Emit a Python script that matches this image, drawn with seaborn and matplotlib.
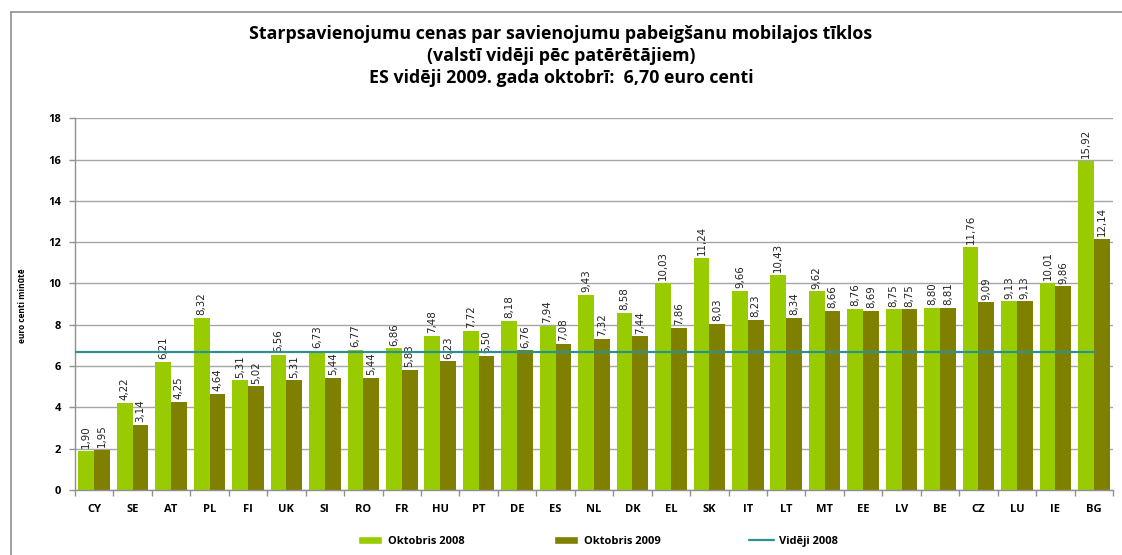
import matplotlib
matplotlib.use("Agg")
import matplotlib.pyplot as plt
import seaborn as sns
import pandas as pd
import numpy as np
from matplotlib.lines import Line2D
from matplotlib.patches import Patch

countries = ["CY", "SE", "AT", "PL", "FI", "UK", "SI", "RO", "FR", "HU", "PT", "DE", "ES", "NL",
             "DK", "EL", "SK", "IT", "LT", "MT", "EE", "LV", "BE", "CZ", "LU", "IE", "BG"]
oct2008 = [1.90, 4.22, 6.21, 8.32, 5.31, 6.56, 6.73, 6.77, 6.86, 7.48, 7.72, 8.18, 7.94, 9.43,
           8.58, 10.03, 11.24, 9.66, 10.43, 9.62, 8.76, 8.75, 8.80, 11.76, 9.13, 10.01, 15.92]
oct2009 = [1.95, 3.14, 4.25, 4.64, 5.02, 5.31, 5.44, 5.44, 5.83, 6.23, 6.50, 6.76, 7.08, 7.32,
           7.44, 7.86, 8.03, 8.23, 8.34, 8.66, 8.69, 8.75, 8.81, 9.09, 9.13, 9.86, 12.14]
avg2008 = 6.70
series_names = ["Oktobris 2008", "Oktobris 2009"]
avg_name = "Vidēji 2008"
title = ("Starpsavienojumu cenas par savienojumu pabeigšanu mobilajos tīklos\n"
         "(valstī vidēji pēc patērētājiem)\n"
         "ES vidēji 2009. gada oktobrī:  6,70 euro centi")
ylabel = "euro centi minūtē"
yticks = [0, 2, 4, 6, 8, 10, 12, 14, 16, 18]

c08 = "#99CC00"
c09 = "#808000"
cline = "#2E9191"

sns.set_theme(style="white")
plt.rcParams['font.family'] = ['Open Sans', 'DejaVu Sans']
plt.rcParams['text.color'] = 'black'
plt.rcParams['xtick.color'] = 'black'
plt.rcParams['ytick.color'] = 'black'

df = pd.DataFrame({
    "country": countries * 2,
    "value": oct2008 + oct2009,
    "series": [series_names[0]] * len(countries) + [series_names[1]] * len(countries),
})

fig = plt.figure(figsize=(11.22, 5.55), dpi=100)
ax = fig.add_axes([0.0668, 0.117, 0.9252, 0.670])

sns.barplot(data=df, x="country", y="value", hue="series", order=countries,
            hue_order=series_names, palette=[c08, c09], width=0.82, gap=0,
            saturation=1, linewidth=0, ax=ax, legend=False)

n = len(countries)
ax.plot([-0.5, n - 1], [avg2008, avg2008], color=cline, lw=1.6, zorder=4)

ax.set_xlim(-0.5, n - 0.5)
ax.set_ylim(0, 18)
ax.set_yticks(yticks)
ax.set_yticklabels([str(t) for t in yticks], fontsize=8, fontweight="bold")
ax.yaxis.grid(True, color="#a6a6a6", lw=1)
ax.set_axisbelow(True)
ax.set_xlabel("")
ax.set_ylabel("")
for s in ["top", "right"]:
    ax.spines[s].set_visible(False)
for s in ["left", "bottom"]:
    ax.spines[s].set_color("#909090")
    ax.spines[s].set_linewidth(1)

ax.set_xticks(range(n))
ax.set_xticklabels(countries, fontsize=8, fontweight="bold")
ax.tick_params(axis="x", which="major", length=0, pad=10)
ax.set_xticks(np.arange(-0.5, n, 1.0), minor=True)
ax.tick_params(axis="x", which="minor", length=4, color="#909090", width=1, bottom=True)
ax.tick_params(axis="y", length=4, color="#909090", width=1, left=True, pad=6)

for cont in ax.containers:
    for bar in cont:
        h = bar.get_height()
        ax.annotate(f"{h:.2f}".replace(".", ","),
                    (bar.get_x() + bar.get_width() / 2, h),
                    xytext=(0, 2), textcoords="offset points",
                    rotation=90, ha="center", va="bottom", fontsize=7.4,
                    family=["DejaVu Sans"], color="#222222")

fig.text(0.5, 0.899, title, ha="center", va="center", fontsize=12.8,
         fontweight="bold", linespacing=1.3)
fig.text(0.02, 0.45, ylabel, rotation=90, ha="center", va="center", fontsize=6,
         fontweight="bold")

handles = [Patch(facecolor=c08, label=series_names[0]),
           Patch(facecolor=c09, label=series_names[1]),
           Line2D([0], [0], color=cline, lw=1.6, label=avg_name)]
leg = fig.legend(handles=handles, loc="center", bbox_to_anchor=(0.533, 0.025), ncol=3,
                 frameon=False, columnspacing=8, handlelength=2.2, handleheight=0.8,
                 handletextpad=0.5, prop={"size": 8, "weight": "bold"})

bx = 10.5 / 1122
by = 1 - 11.5 / 555
fig.add_artist(Line2D([bx, bx], [0, by], transform=fig.transFigure, color="#909090", lw=1.2))
fig.add_artist(Line2D([bx, 1], [by, by], transform=fig.transFigure, color="#909090", lw=1.2))

fig.savefig("out.png", dpi=100)
